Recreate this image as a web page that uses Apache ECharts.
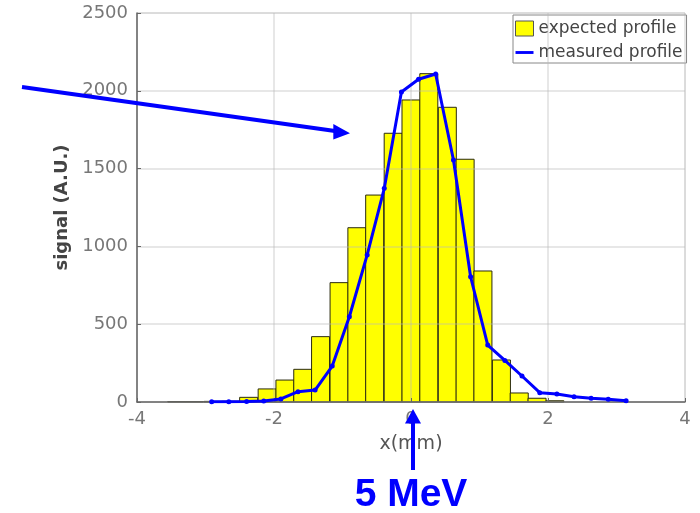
<!DOCTYPE html>
<html>
<head>
<meta charset="utf-8">
<script src="https://cdn.jsdelivr.net/npm/echarts@6/dist/echarts.min.js"></script>
<style>html,body{margin:0;padding:0;background:#fff;}#c{width:700px;height:513px;}</style>
</head>
<body>
<div id="c"></div>
<script>
// ---- data ----
const binCenters = [-3.42, -3.16, -2.89, -2.63, -2.37, -2.10, -1.84, -1.58, -1.32, -1.05, -0.79, -0.53, -0.26, 0.00, 0.26, 0.53, 0.79, 1.05, 1.32, 1.58, 1.84, 2.10];
const binWidth = 0.263;
const expectedProfile = [3, 3, 4, 5, 30, 84, 141, 210, 420, 767, 1120, 1330, 1727, 1941, 2110, 1894, 1560, 842, 270, 58, 24, 8];
const measuredX = [-2.91, -2.66, -2.40, -2.15, -1.90, -1.65, -1.40, -1.15, -0.90, -0.64, -0.39, -0.14, 0.11, 0.36, 0.62, 0.87, 1.12, 1.37, 1.62, 1.88, 2.13, 2.38, 2.63, 2.88, 3.14];
const measuredProfile = [2, 2, 3, 6, 20, 66, 77, 231, 548, 945, 1373, 1992, 2074, 2108, 1555, 805, 366, 267, 167, 60, 51, 34, 24, 17, 8];
const xTicks = [-4, -2, 0, 2, 4];
const yTicks = [0, 500, 1000, 1500, 2000, 2500];
const seriesNames = ['expected profile', 'measured profile'];
const xLabel = 'x(mm)';
const yLabel = 'signal (A.U.)';
const annotation = '5 MeV';

const chart = echarts.init(document.getElementById('c'), null, {renderer: 'canvas'});
const barData = binCenters.map((c, i) => [c, expectedProfile[i]]);
const lineData = measuredX.map((x, i) => [x, measuredProfile[i]]);

const tickFont = {fontFamily: 'DejaVu Sans', fontSize: 18, color: '#777', formatter: v => String(v)};

chart.setOption({
  animation: false,
  backgroundColor: '#fff',
  grid: {left: 137, top: 13, right: 15, bottom: 111, show: true, borderColor: '#dcdcdc', borderWidth: 1},
  legend: {
    orient: 'vertical', left: 513, top: 15,
    backgroundColor: '#fff', borderColor: '#888', borderWidth: 1,
    padding: [5, 4, 2, 2], itemGap: 7, itemWidth: 18, itemHeight: 15,
    textStyle: {fontFamily: 'DejaVu Sans', fontSize: 17, color: '#444'},
    data: [
      {name: seriesNames[0], icon: 'rect', itemStyle: {color: '#ffff00', borderColor: '#555', borderWidth: 1}},
      {name: seriesNames[1], icon: 'path://M0,0 L20,0 L20,3.2 L0,3.2 Z', itemStyle: {color: '#0000ff'}}
    ]
  },
  xAxis: {
    type: 'value', min: xTicks[0], max: xTicks[xTicks.length - 1], interval: xTicks[1] - xTicks[0], z: 5,
    axisLine: {onZero: false, lineStyle: {color: '#666', width: 1.5}},
    axisTick: {inside: true, length: 4, lineStyle: {color: '#666'}},
    axisLabel: Object.assign({margin: 8}, tickFont),
    splitLine: {show: true, lineStyle: {color: 'rgba(185,185,185,0.45)', width: 1.5}},
    name: xLabel, nameLocation: 'middle', nameGap: 33,
    nameTextStyle: {fontFamily: 'DejaVu Sans', fontSize: 19, color: '#555'}
  },
  yAxis: {
    type: 'value', min: yTicks[0], max: yTicks[yTicks.length - 1], interval: yTicks[1] - yTicks[0], z: 5,
    axisLine: {show: true, onZero: false, lineStyle: {color: '#666', width: 1.5}},
    axisTick: {show: true, inside: true, length: 4, lineStyle: {color: '#666'}},
    axisLabel: Object.assign({margin: 9}, tickFont),
    splitLine: {show: true, lineStyle: {color: 'rgba(185,185,185,0.45)', width: 1.5}},
    name: yLabel, nameLocation: 'middle', nameGap: 62,
    nameTextStyle: {fontFamily: 'DejaVu Sans', fontSize: 18, fontWeight: 'bold', color: '#444'}
  },
  series: [
    {
      name: seriesNames[0], type: 'custom', z: 2,
      itemStyle: {color: '#ffff00'},
      renderItem: function (params, api) {
        const c = api.value(0), v = api.value(1);
        const p0 = api.coord([c - binWidth / 2, v]);
        const p1 = api.coord([c + binWidth / 2, 0]);
        return {
          type: 'rect',
          shape: {x: p0[0], y: p0[1], width: p1[0] - p0[0], height: p1[1] - p0[1]},
          style: {fill: '#ffff00', stroke: '#2a2a10', lineWidth: 1}
        };
      },
      encode: {x: 0, y: 1},
      data: barData
    },
    {
      name: seriesNames[1], type: 'line', z: 8,
      data: lineData, symbol: 'circle', symbolSize: 5, showSymbol: true,
      lineStyle: {color: '#0000ff', width: 3},
      itemStyle: {color: '#0000ff'}
    }
  ],
  graphic: [
    {type: 'polyline', z: 100, shape: {points: [[22, 87], [335, 131]]}, style: {stroke: '#0000ff', lineWidth: 4, fill: null}},
    {type: 'polygon', z: 100, shape: {points: [[350, 133.3], [333.3, 124], [333.3, 139.5]]}, style: {fill: '#0000ff'}},
    {type: 'polyline', z: 100, shape: {points: [[413, 470], [413, 420]]}, style: {stroke: '#0000ff', lineWidth: 4, fill: null}},
    {type: 'polygon', z: 100, shape: {points: [[413, 409], [405, 423.5], [421, 423.5]]}, style: {fill: '#0000ff'}},
    {type: 'text', z: 100, x: 411, y: 495, style: {text: annotation, textAlign: 'center', textVerticalAlign: 'middle', font: 'bold 39px "Liberation Sans", Arial', fill: '#0000ff'}}
  ]
});
</script>
</body>
</html>
